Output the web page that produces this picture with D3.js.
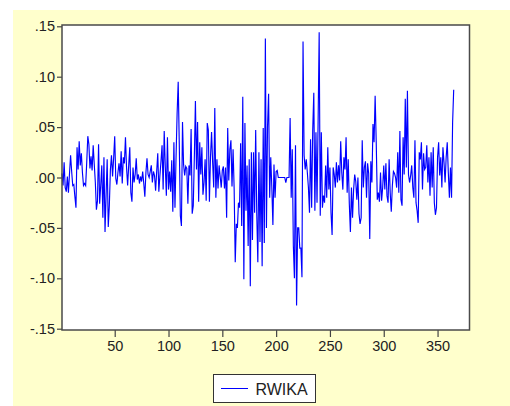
<!DOCTYPE html>
<html>
<head>
<meta charset="utf-8">
<script src="https://cdn.jsdelivr.net/npm/d3@7"></script>
<style>
  body { margin: 0; background: #fff; }
  svg { display: block; font-family: Arial, "Liberation Sans", sans-serif; }
</style>
</head>
<body>
<svg id="chart" width="510" height="406"></svg>
<script>
const seriesName = 'RWIKA';
const rwika = [
  0.004, -0.008, 0.015, -0.010, -0.014, 0.001, -0.015, 0.004, 0.022, 0.006,
  -0.008, -0.007, -0.019, -0.030, 0.030, 0.008, 0.036, 0.012, 0.024, 0.005,
  -0.008, -0.006, -0.008, 0.015, 0.041, 0.033, 0.009, 0.021, 0.007, 0.032,
  0.013, -0.005, -0.032, -0.023, 0.033, -0.026, -0.008, 0.012, -0.040, 0.020,
  -0.054, -0.017, 0.018, -0.049, -0.028, 0.008, 0.022, 0.001, 0.019, 0.041,
  -0.001, -0.007, 0.005, 0.014, 0.001, 0.026, -0.006, 0.020, 0.014, 0.040,
  0.010, -0.008, 0.012, 0.030, -0.015, -0.024, 0.010, -0.005, 0.003, 0.019,
  -0.002, 0.003, -0.006, 0.001, -0.004, 0.006, -0.006, -0.019, 0.005, 0.019,
  0.003, 0.000, 0.006, 0.012, -0.005, 0.006, 0.002, -0.013, 0.006, 0.024,
  -0.014, 0.002, 0.016, 0.032, -0.012, 0.046, 0.011, -0.018, 0.040, -0.012,
  0.006, -0.014, 0.017, -0.034, 0.035, -0.030, 0.020, 0.064, 0.095, 0.033,
  -0.038, -0.048, 0.055, 0.013, 0.002, 0.011, 0.009, -0.026, 0.012, 0.002,
  0.048, -0.036, -0.028, 0.020, 0.076, 0.008, 0.055, -0.024, 0.035, 0.003,
  0.030, -0.017, -0.005, 0.018, -0.023, 0.054, 0.047, -0.024, 0.020, 0.045,
  0.015, -0.010, 0.069, -0.020, 0.018, -0.011, 0.012, 0.001, -0.010, 0.007,
  0.011, -0.011, 0.010, -0.040, 0.049, -0.003, 0.028, 0.037, -0.009, 0.028,
  -0.012, -0.084, -0.046, -0.050, -0.025, -0.030, 0.034, -0.048, 0.080, -0.101,
  0.054, -0.033, 0.012, -0.068, 0.018, -0.108, 0.025, -0.062, 0.025, -0.035,
  0.047, -0.036, -0.084, 0.025, -0.064, 0.018, -0.088, 0.049, -0.065, 0.138,
  -0.050, 0.050, 0.083, -0.020, 0.020, -0.010, -0.047, 0.013, -0.020, 0.006,
  0.007, 0.000, 0.000, 0.000, 0.000, 0.000, 0.000, 0.000, -0.005, 0.000,
  0.000, 0.000, 0.059, -0.020, 0.028, -0.068, -0.100, 0.032, -0.127, -0.050,
  -0.050, -0.070, -0.070, -0.099, 0.135, 0.022, 0.008, 0.018, 0.005, -0.010,
  -0.035, 0.038, -0.030, 0.047, 0.084, -0.033, 0.045, -0.025, 0.055, 0.144,
  -0.038, 0.045, -0.030, -0.018, -0.025, 0.012, -0.020, 0.030, -0.012, 0.010,
  -0.035, -0.057, 0.010, 0.003, -0.010, 0.015, -0.005, 0.012, -0.003, 0.036,
  0.005, -0.012, 0.020, 0.008, 0.040, -0.015, 0.018, -0.026, -0.054, -0.010,
  -0.040, -0.012, 0.003, -0.004, -0.022, 0.000, -0.036, -0.046, -0.040, 0.037,
  -0.010, 0.010, 0.016, -0.020, 0.014, 0.004, -0.061, 0.016, -0.005, 0.053,
  0.035, 0.081, 0.036, -0.022, -0.015, -0.024, 0.005, -0.023, -0.010, 0.012,
  -0.012, 0.014, -0.018, -0.025, 0.018, -0.015, -0.034, -0.008, 0.006, 0.004,
  0.000, -0.010, 0.025, -0.015, 0.046, -0.022, -0.028, 0.040, 0.003, 0.078,
  0.010, 0.086, 0.003, -0.005, 0.002, 0.012, -0.010, -0.020, 0.037, -0.025,
  -0.033, -0.045, 0.025, 0.018, 0.035, -0.012, 0.024, 0.008, 0.010, 0.032,
  -0.005, 0.020, -0.018, 0.025, -0.010, 0.030, -0.025, -0.037, -0.030, 0.020,
  0.035, 0.002, 0.020, -0.010, 0.030, 0.015, -0.005, 0.020, 0.035, 0.005,
  -0.020, 0.010, -0.020, 0.055, 0.087
];
const xTicks = [50, 100, 150, 200, 250, 300, 350];
const yTicks = [-0.15, -0.10, -0.05, 0.00, 0.05, 0.10, 0.15];

const svg = d3.select('#chart');

// pale yellow panel
svg.append('rect')
  .attr('x', 13).attr('y', 10)
  .attr('width', 497).attr('height', 396)
  .attr('fill', '#ffffcc');

const frame = {left: 62, top: 25, right: 469.5, bottom: 330};

const x = d3.scaleLinear()
  .domain([0, 379.5])
  .range([60.9, 469.3]);

const y = d3.scaleLinear()
  .domain([-0.15, 0.15])
  .range([328.7, 26.3]);

svg.append('rect')
  .attr('x', frame.left).attr('y', frame.top)
  .attr('width', frame.right - frame.left)
  .attr('height', frame.bottom - frame.top)
  .attr('fill', '#fff');

const fmt = (d) => {
  const s = d3.format('.2f')(Math.abs(d)).replace(/^0/, '');
  return (d < 0 ? '-' : '') + s;
};

const xAxis = svg.append('g')
  .attr('transform', `translate(0,${frame.bottom})`)
  .call(d3.axisBottom(x).tickValues(xTicks).tickSize(7).tickPadding(4));

const yAxis = svg.append('g')
  .attr('transform', `translate(${frame.left},0)`)
  .call(d3.axisLeft(y).tickValues(yTicks).tickFormat(fmt).tickSize(5).tickPadding(2));

[xAxis, yAxis].forEach((g) => {
  g.select('.domain').remove();
  g.selectAll('.tick line').attr('stroke', '#444').attr('stroke-width', 1.2);
  g.selectAll('.tick text')
    .attr('fill', '#222')
    .style('font-size', '14.5px')
    .style('font-family', 'Arial, "Liberation Sans", sans-serif');
});

const line = d3.line()
  .x((d, i) => x(i + 1))
  .y((d) => y(d));

svg.append('path')
  .datum(rwika)
  .attr('fill', 'none')
  .attr('stroke', '#0000ff')
  .attr('stroke-width', 1.15)
  .attr('stroke-linejoin', 'miter')
  .attr('d', line);

// plot frame
svg.append('rect')
  .attr('x', frame.left).attr('y', frame.top)
  .attr('width', frame.right - frame.left)
  .attr('height', frame.bottom - frame.top)
  .attr('fill', 'none')
  .attr('stroke', '#4a4a4a')
  .attr('stroke-width', 1.5);

// legend
const legend = svg.append('g');
legend.append('rect')
  .attr('x', 213.5).attr('y', 374.5)
  .attr('width', 102).attr('height', 28)
  .attr('fill', '#fff')
  .attr('stroke', '#333')
  .attr('stroke-width', 1);
legend.append('line')
  .attr('x1', 221).attr('x2', 248)
  .attr('y1', 388.5).attr('y2', 388.5)
  .attr('stroke', '#0000ff')
  .attr('stroke-width', 1);
legend.append('text')
  .attr('x', 255.5).attr('y', 394.5)
  .attr('fill', '#222')
  .style('font-size', '16px')
  .text(seriesName);
</script>
</body>
</html>
